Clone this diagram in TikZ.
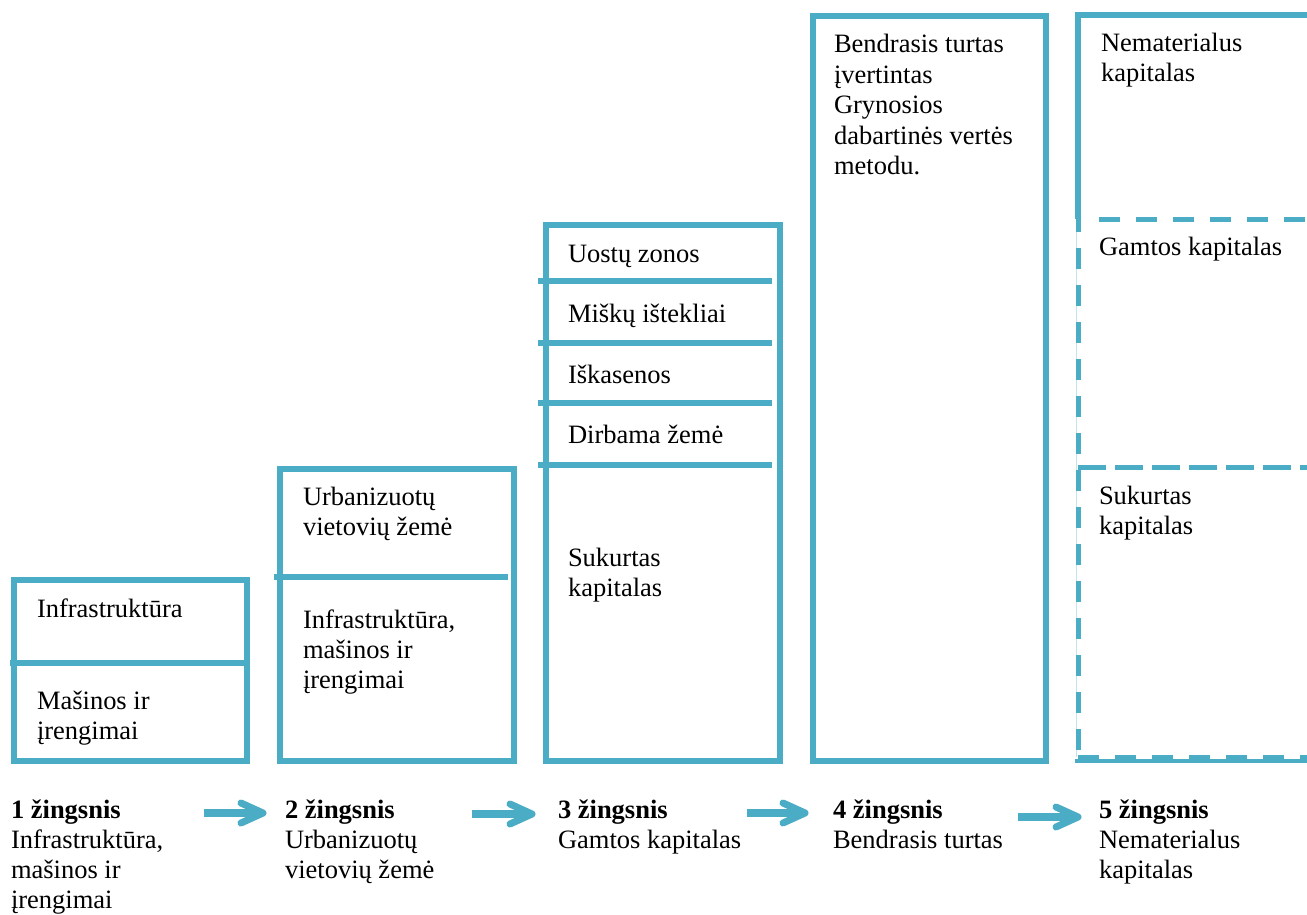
\documentclass[tikz,border=0pt]{standalone}
\usepackage{fontspec}
\setmainfont{Liberation Serif}
\definecolor{accent}{RGB}{75,172,198}
\definecolor{hair}{RGB}{196,228,238}
% multi-line label whose baseline is that of its first line
\newcommand\rows[1]{\begin{tabular}[t]{@{}l@{}}#1\end{tabular}}
\begin{document}
\begin{tikzpicture}[x=1pt,y=-1pt,
  boxline/.style={draw=accent, line width=5.5pt},
  divline/.style={draw=accent, line width=5.5pt},
  dashline/.style={draw=accent, line width=5pt, dash pattern=on 21pt off 16pt},
  txt/.style={anchor=base west, inner sep=0pt, outer sep=0pt,
    font=\fontsize{26.5}{30}\selectfont},
  stepshaft/.style={draw=accent, line width=8pt},
  chevron/.style={draw=accent, line width=7pt, line cap=round, line join=round}
]
\useasboundingbox (0,0) rectangle (1307,915);
\clip (0,0) rectangle (1307,915);

% ---- step 1 column
\draw[boxline] (14,580) rectangle (247,761);
\draw[divline] (10,663) -- (244,663);
\node[txt] (b1a) at (37,617) {Infrastruktūra};
\node[txt] (b1b) at (37,709) {\rows{Mašinos ir\\įrengimai}};

% ---- step 2 column
\draw[boxline] (280,469) rectangle (514,761);
\draw[divline] (274,577) -- (508,577);
\node[txt] (b2a) at (303,505) {\rows{Urbanizuotų\\vietovių žemė}};
\node[txt] (b2b) at (303,628) {\rows{Infrastruktūra,\\mašinos ir\\įrengimai}};

% ---- step 3 column
\draw[boxline] (546,225) rectangle (780,761);
\foreach \yy in {281,343,403,465}
  \draw[divline] (538,\yy) -- (772,\yy);
\node[txt] (b3a) at (568,262) {Uostų zonos};
\node[txt] (b3b) at (568,322) {Miškų ištekliai};
\node[txt] (b3c) at (568,383) {Iškasenos};
\node[txt] (b3d) at (568,443) {Dirbama žemė};
\node[txt] (b3e) at (568,566) {\rows{Sukurtas\\kapitalas}};

% ---- step 4 column
\draw[boxline] (813,16) rectangle (1046,761);
\node[txt, font=\fontsize{26.5}{30.5}\selectfont] (b4a) at (834,53)
  {\rows{Bendrasis turtas\\įvertintas\\Grynosios\\dabartinės vertės\\metodu.}};

% ---- step 5 column
\draw[boxline] (1078,219) -- (1078,15) -- (1320,15);
\draw[hair, line width=1pt] (1076,219) -- (1076,757);
\draw[dashline, dash phase=8pt] (1078,219) -- (1078,757);
\draw[dashline] (1099,219) -- (1320,219);
\draw[dashline, dash pattern=on 28pt off 9pt] (1078,467) -- (1320,467);
\draw[draw=accent, line width=4pt] (1075,761) -- (1320,761);
\draw[dashline] (1078,757) -- (1320,757);
\node[txt] (b5a) at (1101,52) {\rows{Nematerialus\\kapitalas}};
\node[txt] (b5b) at (1099,255) {Gamtos kapitalas};
\node[txt] (b5c) at (1099,504) {\rows{Sukurtas\\kapitalas}};

% ---- step captions
\node[txt] (s1) at (11,818) {\rows{\textbf{1 žingsnis}\\Infrastruktūra,\\mašinos ir\\įrengimai}};
\node[txt] (s2) at (285,818) {\rows{\textbf{2 žingsnis}\\Urbanizuotų\\vietovių žemė}};
\node[txt] (s3) at (558,818) {\rows{\textbf{3 žingsnis}\\Gamtos kapitalas}};
\node[txt] (s4) at (833,818) {\rows{\textbf{4 žingsnis}\\Bendrasis turtas}};
\node[txt] (s5) at (1099,818) {\rows{\textbf{5 žingsnis}\\Nematerialus\\kapitalas}};

% ---- arrows between captions: straight shaft ending in an open chevron
\coordinate (a1s) at (204,813); \coordinate (a1e) at (263,813);
\coordinate (a2s) at (472,814); \coordinate (a2e) at (532,814);
\coordinate (a3s) at (747,813); \coordinate (a3e) at (805,813);
\coordinate (a4s) at (1018,817); \coordinate (a4e) at (1078,817);
\foreach \a in {1,2,3,4} {
  \draw[stepshaft] (a\a s) -- ([xshift=-3pt]a\a e);
  \draw[chevron] (a\a e) ++(-22,-10) -- (a\a e) -- ++(-22,10);
}
\end{tikzpicture}
\end{document}
